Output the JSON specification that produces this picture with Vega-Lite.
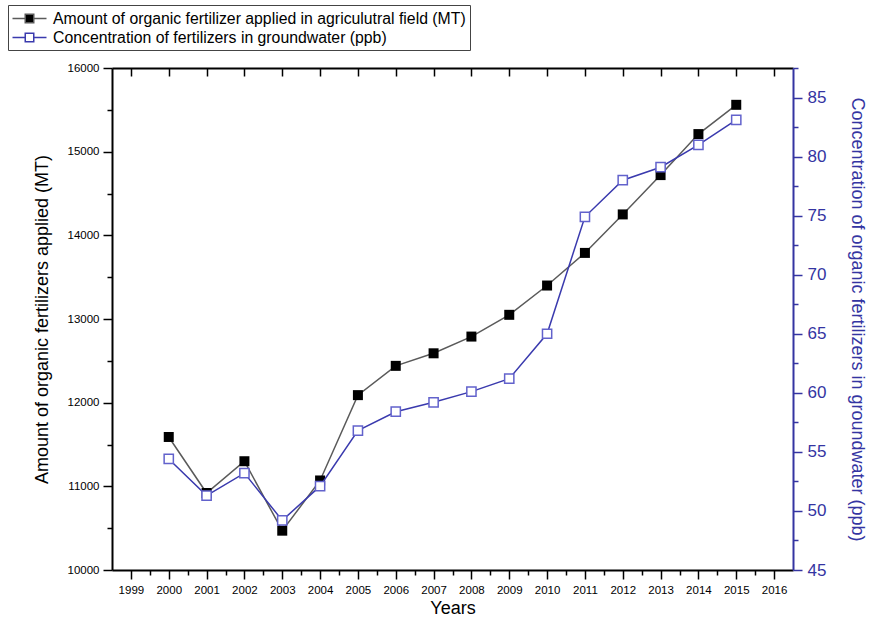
{
  "$schema": "https://vega.github.io/schema/vega-lite/v6.json",
  "width": 681,
  "height": 502,
  "autosize": {"type": "none"},
  "padding": {"left": 112, "top": 68, "right": 76, "bottom": 56},
  "config": {
    "font": "Liberation Sans",
    "view": {"stroke": null},
    "axis": {"grid": false, "domainWidth": 2, "domainColor": "black", "tickColor": "black", "tickWidth": 1.5, "labelColor": "black", "titleColor": "black", "titleFontWeight": "normal", "titleFontSize": 18, "labelFont": "Liberation Sans", "titleFont": "Liberation Sans"}
  },
  "data": {
    "values": [
      {"year": 2000, "series": "Amount of organic fertilizer applied in agriculutral field (MT)", "value": 11590},
      {"year": 2001, "series": "Amount of organic fertilizer applied in agriculutral field (MT)", "value": 10920},
      {"year": 2002, "series": "Amount of organic fertilizer applied in agriculutral field (MT)", "value": 11300},
      {"year": 2003, "series": "Amount of organic fertilizer applied in agriculutral field (MT)", "value": 10470},
      {"year": 2004, "series": "Amount of organic fertilizer applied in agriculutral field (MT)", "value": 11070},
      {"year": 2005, "series": "Amount of organic fertilizer applied in agriculutral field (MT)", "value": 12090},
      {"year": 2006, "series": "Amount of organic fertilizer applied in agriculutral field (MT)", "value": 12440},
      {"year": 2007, "series": "Amount of organic fertilizer applied in agriculutral field (MT)", "value": 12590},
      {"year": 2008, "series": "Amount of organic fertilizer applied in agriculutral field (MT)", "value": 12790},
      {"year": 2009, "series": "Amount of organic fertilizer applied in agriculutral field (MT)", "value": 13050},
      {"year": 2010, "series": "Amount of organic fertilizer applied in agriculutral field (MT)", "value": 13400},
      {"year": 2011, "series": "Amount of organic fertilizer applied in agriculutral field (MT)", "value": 13790},
      {"year": 2012, "series": "Amount of organic fertilizer applied in agriculutral field (MT)", "value": 14250},
      {"year": 2013, "series": "Amount of organic fertilizer applied in agriculutral field (MT)", "value": 14720},
      {"year": 2014, "series": "Amount of organic fertilizer applied in agriculutral field (MT)", "value": 15210},
      {"year": 2015, "series": "Amount of organic fertilizer applied in agriculutral field (MT)", "value": 15560},
      {"year": 2000, "series": "Concentration of fertilizers in groundwater (ppb)", "value": 54.4},
      {"year": 2001, "series": "Concentration of fertilizers in groundwater (ppb)", "value": 51.3},
      {"year": 2002, "series": "Concentration of fertilizers in groundwater (ppb)", "value": 53.2},
      {"year": 2003, "series": "Concentration of fertilizers in groundwater (ppb)", "value": 49.2},
      {"year": 2004, "series": "Concentration of fertilizers in groundwater (ppb)", "value": 52.1},
      {"year": 2005, "series": "Concentration of fertilizers in groundwater (ppb)", "value": 56.8},
      {"year": 2006, "series": "Concentration of fertilizers in groundwater (ppb)", "value": 58.4},
      {"year": 2007, "series": "Concentration of fertilizers in groundwater (ppb)", "value": 59.2},
      {"year": 2008, "series": "Concentration of fertilizers in groundwater (ppb)", "value": 60.1},
      {"year": 2009, "series": "Concentration of fertilizers in groundwater (ppb)", "value": 61.2},
      {"year": 2010, "series": "Concentration of fertilizers in groundwater (ppb)", "value": 65.0},
      {"year": 2011, "series": "Concentration of fertilizers in groundwater (ppb)", "value": 74.9},
      {"year": 2012, "series": "Concentration of fertilizers in groundwater (ppb)", "value": 78.0},
      {"year": 2013, "series": "Concentration of fertilizers in groundwater (ppb)", "value": 79.1},
      {"year": 2014, "series": "Concentration of fertilizers in groundwater (ppb)", "value": 81.0},
      {"year": 2015, "series": "Concentration of fertilizers in groundwater (ppb)", "value": 83.1}
    ]
  },
  "layer": [
    {
      "transform": [{"filter": {"field": "series", "equal": "Amount of organic fertilizer applied in agriculutral field (MT)"}}],
      "encoding": {
        "x": {"field": "year", "type": "quantitative", "scale": {"domain": [1998.5, 2016.5], "nice": false, "zero": false},
          "axis": {"orient": "bottom", "values": [1999,2000,2001,2002,2003,2004,2005,2006,2007,2008,2009,2010,2011,2012,2013,2014,2015,2016], "format": "d", "tickSize": 9, "labelFontSize": 11.5, "labelPadding": 5, "title": "Years", "titlePadding": 4}},
        "y": {"field": "value", "type": "quantitative", "scale": {"domain": [10000, 16000], "nice": false, "zero": false},
          "axis": {"orient": "left", "values": [10000,11000,12000,13000,14000,15000,16000], "format": "d", "tickSize": 9, "labelFontSize": 11.5, "labelPadding": 4, "title": "Amount of organic fertilizers applied (MT)", "titlePadding": 16}}
      },
      "layer": [
        {"mark": {"type": "line", "strokeWidth": 1.5}, "encoding": {"color": {"field": "series", "type": "nominal", "title": null,
          "scale": {"domain": ["Amount of organic fertilizer applied in agriculutral field (MT)", "Concentration of fertilizers in groundwater (ppb)"], "range": ["#5a5a5a", "#3a3aae"]},
          "legend": {"orient": "none", "legendX": -104, "legendY": -63, "padding": 4, "strokeColor": "#444", "fillColor": "white", "labelFontSize": 15.8, "labelLimit": 600, "rowPadding": 1, "symbolSize": 289, "symbolStrokeWidth": 1.5, "symbolOffset": 8, "labelOffset": 14,
            "symbolType": "M-2,0H-0.56M0.56,0H2M-0.5,-0.5H0.5V0.5H-0.5Z",
            "encode": {"symbols": {"update": {"fill": {"signal": "datum.value === 'Amount of organic fertilizer applied in agriculutral field (MT)' ? 'black' : 'white'"}, "fillOpacity": {"value": 1}}}}}}}},
        {"mark": {"type": "point", "shape": "square", "filled": true, "color": "black", "size": 100, "opacity": 1}}
      ]
    },
    {
      "transform": [{"filter": {"field": "series", "equal": "Concentration of fertilizers in groundwater (ppb)"}}],
      "encoding": {
        "x": {"field": "year", "type": "quantitative", "scale": {"domain": [1998.5, 2016.5], "nice": false, "zero": false}, "axis": null},
        "y": {"field": "value", "type": "quantitative", "scale": {"domain": [45, 87.5], "nice": false, "zero": false},
          "axis": {"orient": "right", "values": [45,50,55,60,65,70,75,80,85], "tickSize": 9, "labelFontSize": 17, "labelPadding": 5, "labelColor": "#3434a2", "domainColor": "#3434a2", "tickColor": "#3434a2", "title": "Concentration of organic fertilizers in groundwater (ppb)", "titleColor": "#3434a2", "titlePadding": 22}}
      },
      "layer": [
        {"mark": {"type": "line", "strokeWidth": 1.5}, "encoding": {"color": {"field": "series", "type": "nominal"}}},
        {"mark": {"type": "point", "shape": "square", "filled": true, "fill": "white", "stroke": "#6262cc", "strokeWidth": 1.5, "size": 85, "opacity": 1}}
      ]
    },
    {
      "transform": [{"filter": {"field": "series", "equal": "Amount of organic fertilizer applied in agriculutral field (MT)"}}],
      "mark": {"type": "point", "opacity": 0},
      "encoding": {
        "x": {"field": "year", "type": "quantitative", "scale": {"domain": [1998.5, 2016.5], "nice": false, "zero": false},
          "axis": {"orient": "bottom", "values": [1999.5,2000.5,2001.5,2002.5,2003.5,2004.5,2005.5,2006.5,2007.5,2008.5,2009.5,2010.5,2011.5,2012.5,2013.5,2014.5,2015.5], "labels": false, "domain": false, "tickSize": 5, "title": null}},
        "y": {"field": "value", "type": "quantitative", "scale": {"domain": [10000, 16000], "nice": false, "zero": false},
          "axis": {"orient": "left", "values": [10500,11500,12500,13500,14500,15500], "labels": false, "domain": false, "tickSize": 5, "title": null}}
      }
    },
    {
      "transform": [{"filter": {"field": "series", "equal": "Concentration of fertilizers in groundwater (ppb)"}}],
      "mark": {"type": "point", "opacity": 0},
      "encoding": {
        "x": {"field": "year", "type": "quantitative", "scale": {"domain": [1998.5, 2016.5], "nice": false, "zero": false},
          "axis": {"orient": "top", "values": [1999,2000,2001,2002,2003,2004,2005,2006,2007,2008,2009,2010,2011,2012,2013,2014,2015,2016], "labels": false, "tickSize": -8, "title": null}},
        "y": {"field": "value", "type": "quantitative", "scale": {"domain": [45, 87.5], "nice": false, "zero": false},
          "axis": {"orient": "right", "values": [47.5,52.5,57.5,62.5,67.5,72.5,77.5,82.5,87.5], "labels": false, "domain": false, "tickSize": 5, "tickColor": "#3434a2", "title": null}}
      }
    }
  ],
  "resolve": {"scale": {"x": "independent", "y": "independent"}}
}
